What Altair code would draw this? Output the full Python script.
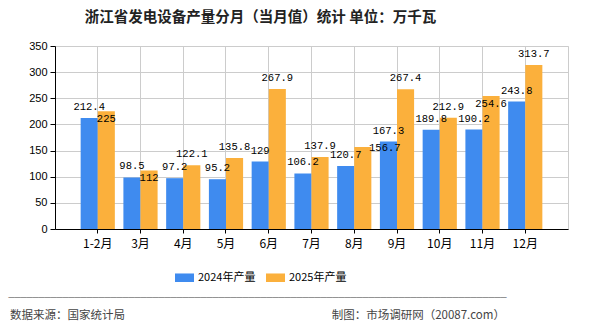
import altair as alt
import pandas as pd

months = ["1-2月", "3月", "4月", "5月", "6月", "7月", "8月", "9月", "10月", "11月", "12月"]
v2024 = [212.4, 98.5, 97.2, 95.2, 129, 106.2, 120.7, 167.3, 189.8, 190.2, 243.8]
v2025 = [225, 112, 122.1, 135.8, 267.9, 137.9, 156.7, 267.4, 212.9, 254.6, 313.7]
series = ["2024年产量", "2025年产量"]
colors = ["#3F8BEF", "#FBB03C"]
y_ticks = [0, 50, 100, 150, 200, 250, 300, 350]
title_text = "浙江省发电设备产量分月（当月值）统计 单位：万千瓦"
source_text = "数据来源：国家统计局"
credit_text = "制图：市场调研网（20087.com）"

df = pd.DataFrame({"month": months, "idx": list(range(len(months))), "a": v2024, "b": v2025})

CJK = "Noto Sans CJK SC"
MONO = "Liberation Mono"

x_enc = alt.X(
    "month:N",
    sort=months,
    scale=alt.Scale(paddingInner=0.2, paddingOuter=0.6),
    axis=alt.Axis(
        title=None, labelAngle=0, grid=True, bandPosition=0.5,
        gridColor="#cccccc", domainColor="#000000", tickColor="#000000",
        tickSize=4, labelPadding=5, labelFont=CJK, labelFontSize=12, labelColor="#000000",
    ),
)
xo_enc = alt.XOffset("series:N", sort=series, scale=alt.Scale(paddingInner=0, paddingOuter=0))
y_enc = alt.Y(
    "value:Q",
    scale=alt.Scale(domain=[0, 350], nice=False),
    axis=alt.Axis(
        values=y_ticks, title=None, gridColor="#cccccc", domainColor="#000000",
        tickColor="#000000", tickSize=5, labelPadding=3, labelFont="Liberation Sans",
        labelFontSize=11, labelColor="#000000",
    ),
)

base = alt.Chart(df).transform_window(
    nexta="lead(a)", sort=[alt.SortField("idx")]
).transform_calculate(
    nbr="isValid(datum.nexta) && abs(datum.b - datum.nexta) < 17 && length(toString(datum.b)) + length(toString(datum.nexta)) > 8"
).transform_calculate(
    pos="(datum.b - datum.a < 18) ? 'in' : (datum.nbr ? ((datum.b - datum.a < 57) ? 'right' : 'in') : 'top')"
).transform_fold(
    ["a", "b"], as_=["k", "value"]
).transform_calculate(
    series="datum.k == 'a' ? '2024年产量' : '2025年产量'"
)

bars = base.mark_bar().encode(
    x=x_enc,
    xOffset=xo_enc,
    y=y_enc,
    color=alt.Color(
        "series:N",
        scale=alt.Scale(domain=series, range=colors),
        legend=alt.Legend(
            orient="none", legendX=120, legendY=222, direction="horizontal", title=None,
            symbolType="M-1,-0.45L1,-0.45L1,0.45L-1,0.45Z", symbolSize=361,
            symbolStrokeWidth=0, labelFont=CJK, labelFontSize=11, labelColor="#000000",
            columnPadding=10, labelOffset=4,
        ),
    ),
)

def labels(filter_expr, dy, dx=0):
    return base.transform_filter(filter_expr).mark_text(
        dx=dx, dy=dy, baseline="alphabetic", font=MONO, fontSize=10.5, color="#000000"
    ).encode(
        x=x_enc, xOffset=xo_enc, y=y_enc, text=alt.Text("value:Q", format=".4~g")
    )

lab_a = labels("datum.k == 'a'", -8)
lab_b_top = labels("datum.k == 'b' && datum.pos == 'top'", -8)
lab_b_in = labels("datum.k == 'b' && datum.pos == 'in'", 11)
lab_b_right = labels("datum.k == 'b' && datum.pos == 'right'", 4, 22)

# separator line under the legend, drawn with joined box-drawing glyphs
separator = "\u2500" * 83
footer_line = alt.Chart(pd.DataFrame({"t": [separator]})).mark_text(
    align="center", baseline="middle", font="DejaVu Sans Mono", fontSize=9.98, color="#888888"
).encode(text="t:N", x=alt.value(202.5), y=alt.value(252))
footer_left = alt.Chart(pd.DataFrame({"t": [source_text]})).mark_text(
    align="left", baseline="middle", font=CJK, fontSize=11.5, color="#444444"
).encode(text="t:N", x=alt.value(-45), y=alt.value(270))
footer_right = alt.Chart(pd.DataFrame({"t": [credit_text]})).mark_text(
    align="right", baseline="middle", font=CJK, fontSize=11.5, color="#444444"
).encode(text="t:N", x=alt.value(450), y=alt.value(270))

chart = alt.layer(
    bars, lab_a, lab_b_top, lab_b_in, lab_b_right, footer_line, footer_left, footer_right
).properties(
    width=513,
    height=183,
    autosize="none",
    padding={"left": 55, "top": 46, "right": 22, "bottom": 101},
    title=alt.TitleParams(
        text=title_text, anchor="middle", dx=-51, font=CJK, fontSize=14.5,
        fontWeight="bold", color="#222222", baseline="middle", offset=8,
    ),
).configure_view(stroke="#cccccc")

chart.save("out.html", embed_options={"renderer": "svg", "actions": False})
